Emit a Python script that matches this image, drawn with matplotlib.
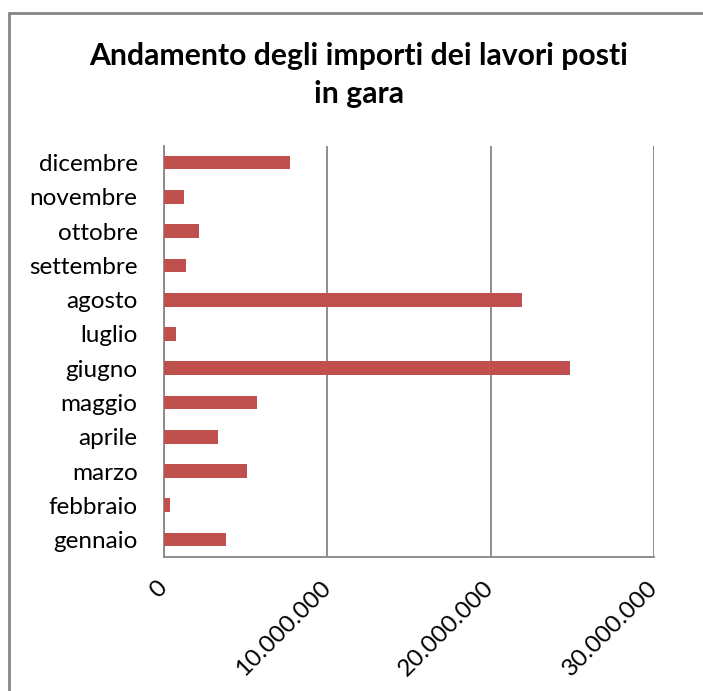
import matplotlib
matplotlib.use("Agg")
import matplotlib.pyplot as plt
from matplotlib.patches import Rectangle

# monthly amounts (EUR)
months = ["gennaio", "febbraio", "marzo", "aprile", "maggio", "giugno",
          "luglio", "agosto", "settembre", "ottobre", "novembre", "dicembre"]
amounts = [3810000, 350000, 5100000, 3300000, 5710000, 24870000,
           750000, 21940000, 1330000, 2140000, 1240000, 7720000]
xticks = [0, 10000000, 20000000, 30000000]
xtick_labels = ["0", "10.000.000", "20.000.000", "30.000.000"]

title = "Andamento degli importi dei lavori posti\nin gara"

plt.rcParams['font.family'] = ['Lato', 'DejaVu Sans']

fig = plt.figure(figsize=(7.03, 6.91), dpi=100)

## outer chart frame like the Excel chart area (right and bottom edges are cut off)
frame = Rectangle((8.5 / 703, -0.05), 1.1, 1.05 - 13.5 / 691,
                  transform=fig.transFigure, fill=False, edgecolor='#868686',
                  linewidth=2.0, zorder=0)
fig.patches.append(frame)

ax = fig.add_axes([164 / 703, 1 - 556.7 / 691, (654 - 164) / 703, (556.7 - 145.5) / 691])

ypos = range(len(months))
ax.barh(ypos, amounts, height=0.4, color='#C0504D', zorder=3)

ax.set_xlim(0, 30000000)
ax.set_ylim(-0.5, len(months) - 0.5)
ax.set_xticks(xticks)
ax.set_xticklabels(xtick_labels)
ax.set_yticks(list(ypos))
ax.set_yticklabels(months)

ax.grid(axis='x', color='#868686', linewidth=1.3, zorder=1)
ax.set_axisbelow(True)

for side in ['top', 'right']:
    ax.spines[side].set_visible(False)
for side in ['left', 'bottom']:
    ax.spines[side].set_color('#868686')
    ax.spines[side].set_linewidth(1.3)

ax.tick_params(axis='both', length=0, labelsize=17.5, colors='black')
ax.tick_params(axis='y', pad=19)
ax.tick_params(axis='x', pad=20)

## rotated x labels, right end anchored under each gridline
for lab in ax.get_xticklabels():
    lab.set_rotation(45)
    lab.set_ha('right')
    lab.set_va('center')
    lab.set_rotation_mode('anchor')

fig.text(359 / 703, 1 - 75 / 691, title, ha='center', va='center',
         fontsize=21.7, fontweight='bold', linespacing=1.4)

fig.savefig("out.png", dpi=100)
